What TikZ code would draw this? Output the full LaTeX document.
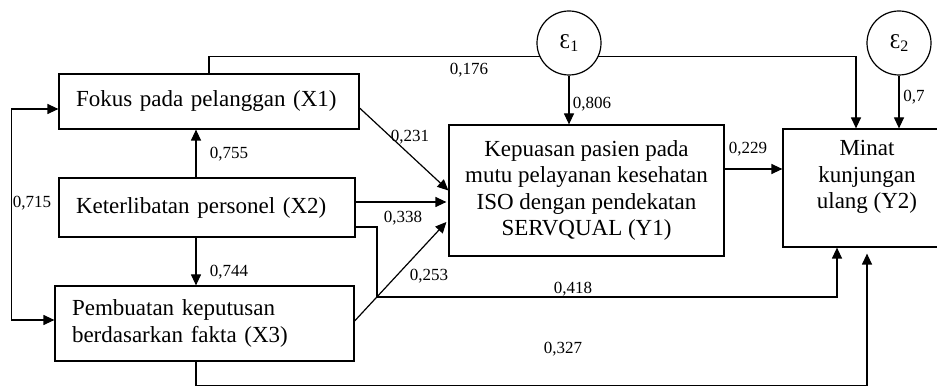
\documentclass[tikz,border=0pt]{standalone}
\usepackage{fontspec}
\setmainfont{Liberation Serif}
\usetikzlibrary{arrows.meta}
\begin{document}
\begin{tikzpicture}[x=1pt,y=-1pt,
  box/.style={draw,line width=1.2pt,inner sep=0pt,font=\fontsize{23}{26.5}\selectfont},
  lbox/.style={box,align=left,text width=#1},
  cbox/.style={box,align=center},
  err/.style={draw,circle,line width=1.2pt,fill=white,minimum size=64pt,inner sep=0pt,font=\fontsize{21}{21}\selectfont},
  lab/.style={font=\fontsize{17}{17}\selectfont,inner sep=0pt},
  arr/.style={line width=1.2pt,-{Triangle[length=11pt,width=10pt]}},
  darr/.style={line width=1.2pt,{Triangle[length=11pt,width=10pt]}-{Triangle[length=11pt,width=10pt]}},
  ln/.style={line width=1.2pt}]
\useasboundingbox (0,0) rectangle (937,387);
% boxes
\node[lbox=266pt,minimum width=300pt,minimum height=55pt] (X1) at (209,101.5) {Fokus pada pelanggan (X1)};
\node[lbox=262pt,minimum width=296pt,minimum height=59pt] (X2) at (207,207.5) {Keterlibatan personel (X2)};
\node[lbox=265pt,minimum width=299pt,minimum height=75pt] (X3) at (204.5,323.5) {Pembuatan keputusan\\berdasarkan fakta (X3)};
\node[cbox,minimum width=275pt,minimum height=131pt] (Y1) at (586.5,190.5) {Kepuasan pasien pada\\mutu pelayanan kesehatan\\ISO dengan pendekatan\\SERVQUAL (Y1)};
\node[box,minimum width=168pt,minimum height=118pt] (Y2) at (867,188) {};
\node[cbox,draw=none] (Y2t) at (867,177) {Minat\\kunjungan\\ulang (Y2)};
% X1 -> Y2 (behind E1)
\draw[arr] (X1.north) -- ++(0,-17) -| ([xshift=-11pt]Y2.north);
% error terms
\node[err] (E1) at (569,43) {Ɛ\raisebox{-3pt}{\fontsize{16}{16}\selectfont 1}};
\node[err] (E2) at (899,43) {Ɛ\raisebox{-3pt}{\fontsize{16}{16}\selectfont 2}};
\draw[arr] (E1.south) -- (E1.south |- Y1.north);
\draw[arr] (E2.south) -- (E2.south |- Y2.north);
% Y1 -> Y2
\draw[arr] ([yshift=21.5pt]Y1.east) -- ([yshift=21.5pt]Y1.east -| Y2.west);
% X -> Y1
\draw[arr] ([yshift=-6.5pt]X1.east) -- (Y1.west);
\coordinate (Y1a) at ([yshift=-11.5pt,xshift=-2pt]Y1.west);
\draw[arr] ([yshift=5.5pt]X2.east) -- ([yshift=5.5pt]X2.east -| Y1a);
\draw[arr] ([yshift=2.5pt]X3.east) -- ([yshift=-31.5pt,xshift=-2pt]Y1.west);
% X2 -> Y2, X3 -> Y2
\draw[arr] ([yshift=-19.5pt]X2.east) -| (377,297) -| ([xshift=-30pt]Y2.south);
\draw[arr] ([xshift=-8.5pt]X3.south) -- ++(0,24) -| ([yshift=-6pt]Y2.south);
% among X
\draw[arr] ([xshift=-11pt]X2.north) -- ([xshift=-11pt]X2.north |- X1.south);
\draw[arr] ([xshift=-11pt]X2.south) -- ([xshift=-11pt]X2.south |- X3.north);
\draw[darr] ([yshift=-7.5pt]X1.west) -- ++(-47,0) |- ([yshift=3.5pt]X3.west);
% labels
\node[lab] (l176) at (469,70) {0,176};
\node[lab] (l806) at (592,104) {0,806};
\node[lab] (l7) at (914,97) {0,7};
\node[lab] (l229) at (748,149) {0,229};
\node[lab] (l231) at (410,137) {0,231};
\node[lab] (l338) at (403,218) {0,338};
\node[lab] (l253) at (429,276) {0,253};
\node[lab] (l418) at (573,289) {0,418};
\node[lab] (l327) at (563,349) {0,327};
\node[lab] (l755) at (229,154) {0,755};
\node[lab] (l744) at (229,272) {0,744};
\node[lab] (l715) at (32,203) {0,715};
\end{tikzpicture}
\end{document}
